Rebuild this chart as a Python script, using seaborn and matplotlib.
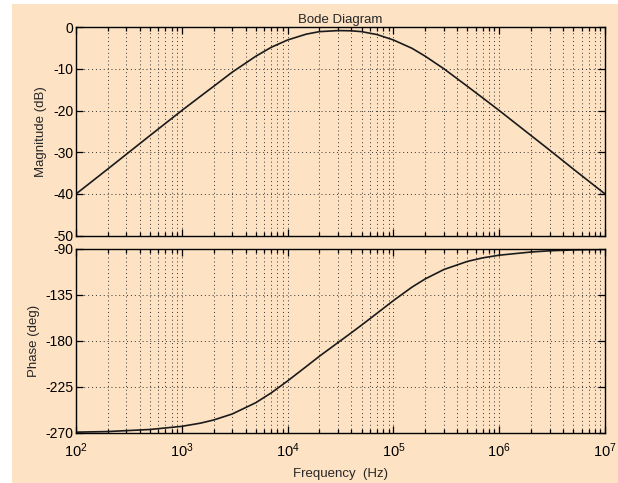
import numpy as np
import pandas as pd
import seaborn as sns
import matplotlib.pyplot as plt
from matplotlib.patches import Rectangle
from matplotlib.ticker import LogLocator, FixedLocator, NullFormatter

# Values
freq = [1e2, 2e2, 5e2, 1e3, 1.5e3, 2e3, 3e3, 5e3, 7e3, 1e4, 1.5e4, 2e4, 3e4, 4e4, 5e4, 7e4,
        1e5, 1.5e5, 2e5, 3e5, 5e5, 7e5, 1e6, 2e6, 3e6, 5e6, 1e7]
magnitude_db = [-40.0, -34.0, -26.0, -20.0, -16.6, -14.2, -10.8, -7.0, -4.85, -3.1, -1.7, -1.1, -0.85,
                -0.9, -1.1, -1.8, -3.1, -5.1, -7.0, -10.0, -14.2, -17.0, -20.0, -26.0, -29.5,
                -34.0, -40.0]
phase_deg = [-269.4, -268.8, -266.8, -263.7, -260.6, -257.5, -251.6, -240.6, -231.0, -219.3, -205.2,
             -195.1, -181.7, -172.2, -164.7, -153.1, -140.7, -127.5, -119.5, -110.3, -102.4, -98.9,
             -96.3, -93.2, -92.0, -91.2, -90.6]

mag_ticks = [0, -10, -20, -30, -40, -50]
phase_ticks = [-90, -135, -180, -225, -270]
freq_ticks = [1e2, 1e3, 1e4, 1e5, 1e6, 1e7]
freq_labels = ['10$^{2}$', '10$^{3}$', '10$^{4}$', '10$^{5}$', '10$^{6}$', '10$^{7}$']

df = pd.DataFrame({'freq': freq, 'mag': magnitude_db, 'phase': phase_deg})

sns.set_theme(style='ticks')
plt.rcParams['font.family'] = ['Liberation Sans', 'DejaVu Sans']
plt.rcParams['mathtext.default'] = 'regular'
plt.rcParams['axes.unicode_minus'] = False

peach = '#fde2c4'
fig = plt.figure(figsize=(6.18, 4.83), dpi=100, facecolor='white')
fig.patches.append(Rectangle((12 / 618, 0), 1 - 12 / 618, 1 - 4 / 483,
                             transform=fig.transFigure, facecolor=peach,
                             edgecolor='none', zorder=-10))

ax1 = fig.add_axes([0.123, 0.512, 0.856, 0.432])
ax2 = fig.add_axes([0.123, 0.104, 0.856, 0.381])

grid_kw = dict(color='#333333', linestyle=(0, (1, 3)), linewidth=0.7)

for ax, col, ticks, lim in [(ax1, 'mag', mag_ticks, (-50, 0)),
                            (ax2, 'phase', phase_ticks, (-270, -90))]:
    ax.set_facecolor(peach)
    sns.lineplot(data=df, x='freq', y=col, ax=ax, color='#1a1a1a', linewidth=1.2)
    ax.set_xscale('log')
    ax.set_xlim(1e2, 1e7)
    ax.set_ylim(*lim)
    ax.yaxis.set_major_locator(FixedLocator(ticks))
    ax.xaxis.set_major_locator(FixedLocator(freq_ticks))
    ax.xaxis.set_minor_locator(LogLocator(base=10, subs=np.arange(2, 10), numticks=20))
    ax.xaxis.set_minor_formatter(NullFormatter())
    ax.grid(True, which='both', axis='x', **grid_kw)
    ax.grid(True, which='major', axis='y', **grid_kw)
    ax.tick_params(which='both', direction='in', top=True, right=True,
                   colors='black', labelsize=10, width=0.9)
    ax.tick_params(which='major', length=5, pad=2)
    ax.tick_params(which='minor', length=3)
    for s in ax.spines.values():
        s.set_color('black')
        s.set_linewidth(1.0)
    ax.set_xlabel('')

ax1.set_xticklabels([])
ax2.set_xticklabels(freq_labels)
ax2.tick_params(axis='x', pad=6, labelsize=10.5)

ax1.set_ylabel('Magnitude (dB)', fontsize=9.5, labelpad=4)
ax2.set_ylabel('Phase (deg)', fontsize=9.5, labelpad=4)
ax2.set_xlabel('Frequency  (Hz)', fontsize=9.5, labelpad=6)
ax1.set_title('Bode Diagram', fontsize=9.5, pad=3)

fig.savefig('out.png', dpi=100, facecolor='white')
